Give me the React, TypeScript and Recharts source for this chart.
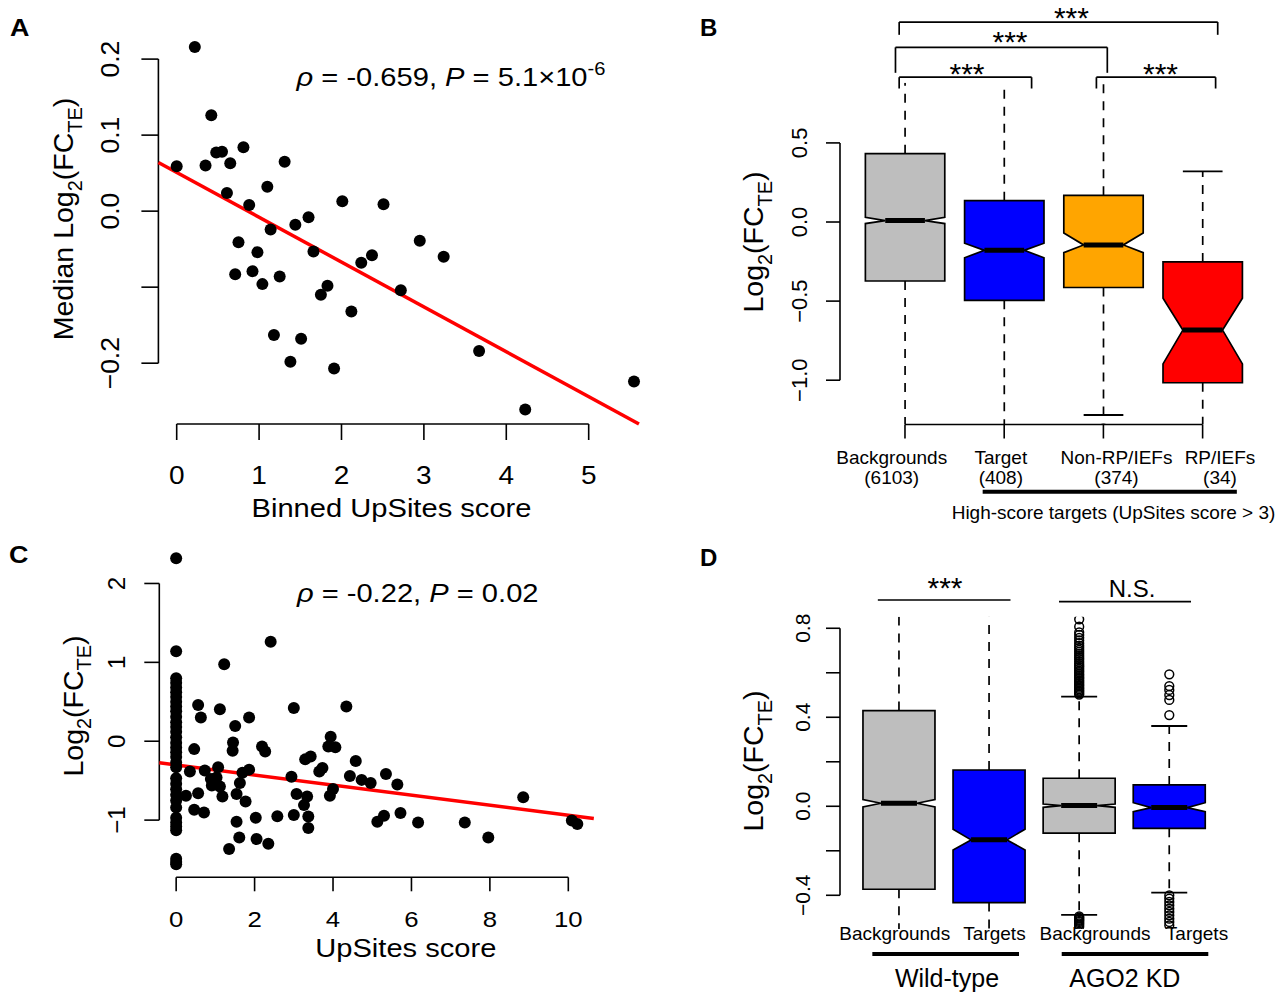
import React from "react";
import { ScatterChart, Scatter, XAxis, YAxis, ReferenceLine, ComposedChart, Bar } from "recharts";

const FONT = "'Liberation Sans', Arial, Helvetica, sans-serif";
const INK = "#000000";

// ---------------- Panel A data ----------------
const binnedScoreA = [0.22, 0.42, 0.0, 0.35, 0.48, 0.55, 0.65, 0.81, 1.31, 0.61, 0.88, 1.1, 1.14, 1.44, 1.6, 0.75, 0.98, 1.66, 0.71, 0.92, 1.04, 1.25, 1.83, 1.75, 2.01, 2.51, 2.24, 2.37, 2.12, 2.72, 2.95, 3.24, 1.18, 1.51, 1.38, 1.91, 3.67, 4.23, 5.55];
const medianLogFcA = [0.216, 0.126, 0.059, 0.06, 0.077, 0.078, 0.063, 0.084, 0.065, 0.024, 0.008, 0.032, -0.024, -0.018, -0.008, -0.041, -0.054, -0.053, -0.083, -0.079, -0.096, -0.086, -0.098, -0.11, 0.013, 0.009, -0.068, -0.058, -0.132, -0.104, -0.039, -0.06, -0.163, -0.168, -0.198, -0.207, -0.184, -0.261, -0.224];
const fitA = { intercept: 0.051, slope: -0.059 };
const xTicksA = [0, 1, 2, 3, 4, 5];
const xTickLabelsA = ["0", "1", "2", "3", "4", "5"];
const yTicksA = [-0.2, -0.1, 0, 0.1, 0.2];
const yTickLabelsA = ["\u22120.2", "", "0.0", "0.1", "0.2"];
const xDomainA: [number, number] = [-0.222, 5.772];
const yDomainA: [number, number] = [-0.28, 0.235];

// ---------------- Panel C data ----------------
const zeroScoreLogFcC = [2.32, 1.14, 0.8, 0.74, 0.68, 0.62, 0.56, 0.5, 0.44, 0.38, 0.31, 0.24, 0.18, 0.12, 0.05, -0.02, -0.08, -0.14, -0.2, -0.27, -0.33, -0.47, -0.54, -0.61, -0.68, -0.75, -0.84, -0.97, -1.03, -1.08, -1.13, -1.49, -1.53, -1.56];
const upsitesScoreC = [2.41, 1.225, 0.56, 0.63, 1.115, 1.86, 1.505, 3.0, 4.34, 1.45, 1.44, 0.46, 2.19, 2.27, 3.94, 3.88, 4.06, 3.29, 3.43, 4.58, 0.35, 0.73, 1.07, 0.885, 1.03, 0.91, 1.115, 1.69, 1.86, 1.625, 1.54, 1.18, 1.77, 0.56, 0.25, 2.94, 3.07, 3.34, 3.26, 3.65, 3.73, 4.0, 3.92, 4.43, 4.73, 4.96, 5.35, 5.64, 0.46, 0.71, 2.03, 2.58, 3.0, 3.37, 3.37, 1.54, 1.61, 2.05, 2.35, 1.35, 5.13, 5.3, 5.72, 6.17, 7.36, 7.96, 8.85, 10.09, 10.23];
const logFcC = [1.26, 0.976, 0.46, 0.3, 0.405, 0.3, 0.194, 0.42, 0.44, -0.017, -0.12, -0.1, -0.068, -0.13, 0.058, -0.068, -0.076, -0.23, -0.195, -0.25, -0.385, -0.37, -0.33, -0.48, -0.46, -0.56, -0.575, -0.4, -0.36, -0.53, -0.67, -0.7, -0.765, -0.66, -0.69, -0.45, -0.67, -0.7, -0.81, -0.385, -0.34, -0.605, -0.69, -0.44, -0.49, -0.53, -0.415, -0.55, -0.87, -0.905, -0.97, -0.95, -0.935, -0.955, -1.1, -1.02, -1.22, -1.24, -1.3, -1.365, -1.02, -0.945, -0.91, -1.03, -1.03, -1.22, -0.71, -1.005, -1.05];
const fitC = { intercept: -0.301, slope: -0.0636 };
const xTicksC = [0, 2, 4, 6, 8, 10];
const xTickLabelsC = ["0", "2", "4", "6", "8", "10"];
const yTicksC = [-1, 0, 1, 2];
const yTickLabelsC = ["\u22121", "0", "1", "2"];
const xDomainC: [number, number] = [-0.43, 10.65];
const yDomainC: [number, number] = [-1.725, 2.475];

// ---------------- Panel B data ----------------
const categoriesB = ["Backgrounds", "Target", "Non-RP/IEFs", "RP/IEFs"];
const countsB = ["(6103)", "(408)", "(374)", "(34)"];
const q1B = [-0.373, -0.495, -0.414, -1.016];
const medianB = [0.009, -0.179, -0.145, -0.683];
const q3B = [0.432, 0.135, 0.169, -0.252];
const notchLoB = [-0.01, -0.226, -0.194, -0.897];
const notchHiB = [0.03, -0.134, -0.07, -0.482];
const whiskerLoB = [-1.7, -1.6, -1.22, -1.5];
const whiskerHiB = [1.4, 1.1, 1.1, 0.32];
const colorsB = ["#BEBEBE", "#0000FF", "#FFA500", "#FF0000"];
const outliersB = [{ x: 3, y: -1.305 }];
const yTicksB = [-1, -0.5, 0, 0.5];
const yTickLabelsB = ["\u22121.0", "\u22120.5", "0.0", "0.5"];
const xDomainB: [number, number] = [0.345, 4.655];
const yDomainB: [number, number] = [-1.28, 0.88];
const bracketsB = [
  { x1: 0.9415, x2: 2.2762, y: 0.9153, yEnd: 0.8439 },
  { x1: 0.9042, x2: 3.0393, y: 1.1043, yEnd: 0.9431 },
  { x1: 0.9415, x2: 4.1522, y: 1.264, yEnd: 1.1833 },
  { x1: 2.9294, x2: 4.131, y: 0.9153, yEnd: 0.8439 },
];
const groupLineB = { x1: 1.783, x2: 4.345, y: -1.705 };

// ---------------- Panel D data ----------------
const categoriesD = ["Backgrounds", "Targets", "Backgrounds", "Targets"];
const groupsD = ["Wild-type", "AGO2 KD"];
const q1D = [-0.373, -0.433, -0.121, -0.099];
const medianD = [0.0135, -0.151, 0.003, -0.006];
const q3D = [0.43, 0.163, 0.126, 0.096];
const notchLoD = [-0.003, -0.196, -0.005, -0.024];
const notchHiD = [0.03, -0.103, 0.01, 0.016];
const whiskerLoD = [-0.75, -0.75, -0.488, -0.388];
const whiskerHiD = [1.0, 1.0, 0.493, 0.361];
const colorsD = ["#BEBEBE", "#0000FF", "#BEBEBE", "#0000FF"];
const outlierHiAgoBg = [0.502, 0.508, 0.515, 0.52, 0.527, 0.533, 0.54, 0.546, 0.553, 0.56, 0.566, 0.574, 0.58, 0.588, 0.595, 0.603, 0.61, 0.618, 0.626, 0.633, 0.641, 0.65, 0.66, 0.668, 0.676, 0.685, 0.694, 0.703, 0.712, 0.722, 0.733, 0.745, 0.757, 0.77, 0.782, 0.807, 0.84];
const outlierLoAgoBg = [-0.495, -0.5, -0.505, -0.51, -0.515, -0.52, -0.526, -0.532, -0.54];
const outlierHiAgoT = [0.41, 0.478, 0.5, 0.523, 0.54, 0.593];
const outlierLoAgoT = [-0.4, -0.415, -0.43, -0.445, -0.46, -0.475, -0.49, -0.505, -0.52, -0.535];
const yTicksD = [-0.4, -0.2, 0, 0.2, 0.4, 0.6, 0.8];
const yTickLabelsD = ["\u22120.4", "", "0.0", "", "0.4", "", "0.8"];
const xDomainD: [number, number] = [0.345, 4.655];
const yDomainD: [number, number] = [-0.552, 0.852];
const bracketsD = [
  { x1: 0.765, x2: 2.2375, y: 0.927 },
  { x1: 2.776, x2: 4.241, y: 0.9196 },
];
const groupLinesD = [
  { x1: 0.704, x2: 2.332, y: -0.664 },
  { x1: 2.806, x2: 4.433, y: -0.664 },
];

// ---------------- helpers ----------------
type Pt = { x: number; y: number };
const zip = (xs: number[], ys: number[]): Pt[] => xs.map((x, i) => ({ x, y: ys[i] }));
const pointsA = zip(binnedScoreA, medianLogFcA);
const pointsC = [...zeroScoreLogFcC.map((y) => ({ x: 0, y })), ...zip(upsitesScoreC, logFcC)];

const buildBoxes = (n: number, q1: number[], med: number[], q3: number[], nlo: number[], nhi: number[], lo: number[], hi: number[], colors: string[]) =>
  Array.from({ length: n }, (_, i) => ({ x: i + 1, q1: q1[i], med: med[i], q3: q3[i], nlo: nlo[i], nhi: nhi[i], lo: lo[i], hi: hi[i], fill: colors[i] }));
const boxesB = buildBoxes(4, q1B, medianB, q3B, notchLoB, notchHiB, whiskerLoB, whiskerHiB, colorsB);
const boxesD = buildBoxes(4, q1D, medianD, q3D, notchLoD, notchHiD, whiskerLoD, whiskerHiD, colorsD);
const outliersD: Pt[] = [
  ...outlierHiAgoBg.map((y) => ({ x: 3, y })),
  ...outlierLoAgoBg.map((y) => ({ x: 3, y })),
  ...outlierHiAgoT.map((y) => ({ x: 4, y })),
  ...outlierLoAgoT.map((y) => ({ x: 4, y })),
];

// clip a fitted line to the plotting box
function fitSegment(fit: { intercept: number; slope: number }, xd: [number, number], yd: [number, number]) {
  const f = (x: number) => fit.intercept + fit.slope * x;
  const xAtY = (y: number) => (y - fit.intercept) / fit.slope;
  let xa = xd[0];
  let xb = xd[1];
  let ya = f(xa);
  if (ya > yd[1]) { xa = xAtY(yd[1]); ya = yd[1]; }
  if (ya < yd[0]) { xa = xAtY(yd[0]); ya = yd[0]; }
  let yb = f(xb);
  if (yb < yd[0]) { xb = xAtY(yd[0]); yb = yd[0]; }
  if (yb > yd[1]) { xb = xAtY(yd[1]); yb = yd[1]; }
  return [{ x: xa, y: ya }, { x: xb, y: yb }];
}

function makeXTick(cfg: { ticks: number[]; labels?: string[]; len: number; base: number; fs: number; sx?: number }) {
  return (p: any) => {
    const { x, y, payload } = p;
    const idx = cfg.ticks.findIndex((t) => Math.abs(t - payload.value) < 1e-9);
    const label = cfg.labels && idx >= 0 ? cfg.labels[idx] : "";
    return (
      <g>
        {cfg.len > 0 && <line x1={x} y1={y} x2={x} y2={y + cfg.len} stroke={INK} strokeWidth={1.6} />}
        {label !== "" && (
          <text transform={`translate(${x},${y + cfg.base}) scale(${cfg.sx ?? 1},1)`} textAnchor="middle" fontSize={cfg.fs} fontFamily={FONT} fill={INK}>
            {label}
          </text>
        )}
      </g>
    );
  };
}

function makeYTick(cfg: { ticks: number[]; labels: string[]; len: number; base: number; fs: number }) {
  return (p: any) => {
    const { x, y, payload } = p;
    const idx = cfg.ticks.findIndex((t) => Math.abs(t - payload.value) < 1e-9);
    const label = idx >= 0 ? cfg.labels[idx] : "";
    return (
      <g>
        <line x1={x} y1={y} x2={x - cfg.len} y2={y} stroke={INK} strokeWidth={1.6} />
        {label !== "" && (
          <text transform={`translate(${x - cfg.base},${y}) rotate(-90)`} textAnchor="middle" fontSize={cfg.fs} fontFamily={FONT} fill={INK}>
            {label}
          </text>
        )}
      </g>
    );
  };
}

const Dot = (r: number) => (p: any) => <circle cx={p.cx} cy={p.cy} r={r} fill={INK} />;
const OpenDot = (r: number) => (p: any) => <circle cx={p.cx} cy={p.cy} r={r} fill="none" stroke={INK} strokeWidth={1.5} />;

// notched box drawn from the bar rectangle spanning [q1, q3]
const BoxShape = (props: any) => {
  const { x, y, width, height, payload, background } = props;
  const d = payload;
  if (!d || !isFinite(y) || !isFinite(height)) return null;
  const pix = (v: number) => y + ((d.q3 - v) / (d.q3 - d.q1)) * height;
  const top = background && isFinite(background.y) ? background.y : -1e6;
  const bot = background && isFinite(background.height) ? background.y + background.height : 1e6;
  const clamp = (v: number) => Math.max(top, Math.min(bot, v));
  const xc = x + width / 2;
  const x0 = x;
  const x1 = x + width;
  const q = width / 4;
  const yq3 = pix(d.q3);
  const yq1 = pix(d.q1);
  const ym = pix(d.med);
  const ynh = pix(d.nhi);
  const ynl = pix(d.nlo);
  const yHiRaw = pix(d.hi);
  const yLoRaw = pix(d.lo);
  const yHi = clamp(yHiRaw);
  const yLo = clamp(yLoRaw);
  const pts = [
    [x0, yq3], [x1, yq3], [x1, ynh], [xc + q, ym], [x1, ynl], [x1, yq1],
    [x0, yq1], [x0, ynl], [xc - q, ym], [x0, ynh],
  ].map((pp) => pp.join(",")).join(" ");
  return (
    <g>
      <line x1={xc} x2={xc} y1={yq3} y2={yHi} stroke={INK} strokeWidth={1.7} strokeDasharray="9 8" />
      <line x1={xc} x2={xc} y1={yq1} y2={yLo} stroke={INK} strokeWidth={1.7} strokeDasharray="9 8" />
      {yHiRaw >= top && <line x1={xc - q} x2={xc + q} y1={yHi} y2={yHi} stroke={INK} strokeWidth={1.9} />}
      {yLoRaw <= bot && <line x1={xc - q} x2={xc + q} y1={yLo} y2={yLo} stroke={INK} strokeWidth={1.9} />}
      <polygon points={pts} fill={d.fill} stroke={INK} strokeWidth={1.7} />
      <line x1={xc - q} x2={xc + q} y1={ym} y2={ym} stroke={INK} strokeWidth={5} />
    </g>
  );
};

const LogTitle = ({ x, y, fs, prefix = "" }: { x: number; y: number; fs: number; prefix?: string }) => {
  const s = fs * 0.3;
  return (
    <text transform={`translate(${x},${y}) rotate(-90)`} textAnchor="middle" fontSize={fs} fontFamily={FONT} fill={INK}>
      {prefix}Log
      <tspan fontSize={fs * 0.7} dy={s}>2</tspan>
      <tspan dy={-s}>(FC</tspan>
      <tspan fontSize={fs * 0.7} dy={s}>TE</tspan>
      <tspan dy={-s}>)</tspan>
    </text>
  );
};

const Txt = ({ x, y, fs, children, anchor = "middle", sx = 1, weight = "normal" }: any) => (
  <text transform={`translate(${x},${y}) scale(${sx},1)`} textAnchor={anchor} fontSize={fs} fontFamily={FONT} fontWeight={weight} fill={INK}>
    {children}
  </text>
);

const abs = (left: number, top: number): React.CSSProperties => ({ position: "absolute", left, top });

const STAR_FS = 30;
const starsB = [
  { x: 967, cy: 69.3 },
  { x: 1010, cy: 37.2 },
  { x: 1071.4, cy: 13 },
  { x: 1160.5, cy: 69.3 },
];

export default function App() {
  const segA = fitSegment(fitA, xDomainA, yDomainA);
  const segC = fitSegment(fitC, xDomainC, yDomainC);
  const SX = 1.12;
  const labelXB = [891.7, 1000.8, 1116.5, 1220];
  const labelXD = [894.7, 994.5, 1095, 1197];

  return (
    <div style={{ position: "absolute", left: 0, top: 0, width: 1287, height: 993, background: "#fff", fontFamily: FONT }}>
      {/* Panel A */}
      <div style={abs(0, 0)}>
        <ScatterChart width={660} height={540} margin={{ top: 32.5, right: 7.7, bottom: 36, left: 58.4 }}>
          <XAxis type="number" dataKey="x" domain={xDomainA} allowDataOverflow ticks={xTicksA} interval={0} height={80}
            axisLine={false} tickLine={false} tickSize={0} tickMargin={0}
            tick={makeXTick({ ticks: xTicksA, labels: xTickLabelsA, len: 16, base: 60, fs: 25, sx: SX })} />
          <YAxis type="number" dataKey="y" domain={yDomainA} allowDataOverflow ticks={yTicksA} interval={0} width={100}
            axisLine={false} tickLine={false} tickSize={0} tickMargin={0}
            tick={makeYTick({ ticks: yTicksA, labels: yTickLabelsA, len: 17, base: 39, fs: 26.5 })} />
          <Scatter data={pointsA} shape={Dot(6)} isAnimationActive={false} />
          <ReferenceLine segment={[{ x: xTicksA[0], y: yDomainA[0] }, { x: xTicksA[xTicksA.length - 1], y: yDomainA[0] }]} stroke={INK} strokeWidth={1.6} ifOverflow="visible" />
          <ReferenceLine segment={[{ x: xDomainA[0], y: yTicksA[0] }, { x: xDomainA[0], y: yTicksA[yTicksA.length - 1] }]} stroke={INK} strokeWidth={1.6} ifOverflow="visible" />
          <ReferenceLine segment={segA} stroke="#FF0000" strokeWidth={3.5} ifOverflow="visible" />
        </ScatterChart>
      </div>

      {/* Panel C */}
      <div style={abs(0, 530)}>
        <ScatterChart width={660} height={463} margin={{ top: 16, right: 66.2, bottom: 35.7, left: 59.3 }}>
          <XAxis type="number" dataKey="x" domain={xDomainC} allowDataOverflow ticks={xTicksC} interval={0} height={80}
            axisLine={false} tickLine={false} tickSize={0} tickMargin={0}
            tick={makeXTick({ ticks: xTicksC, labels: xTickLabelsC, len: 14, base: 49.4, fs: 23, sx: SX })} />
          <YAxis type="number" dataKey="y" domain={yDomainC} allowDataOverflow ticks={yTicksC} interval={0} width={100}
            axisLine={false} tickLine={false} tickSize={0} tickMargin={0}
            tick={makeYTick({ ticks: yTicksC, labels: yTickLabelsC, len: 15, base: 34.3, fs: 24 })} />
          <Scatter data={pointsC} shape={Dot(6)} isAnimationActive={false} />
          <ReferenceLine segment={[{ x: xTicksC[0], y: yDomainC[0] }, { x: xTicksC[xTicksC.length - 1], y: yDomainC[0] }]} stroke={INK} strokeWidth={1.6} ifOverflow="visible" />
          <ReferenceLine segment={[{ x: xDomainC[0], y: yTicksC[0] }, { x: xDomainC[0], y: yTicksC[yTicksC.length - 1] }]} stroke={INK} strokeWidth={1.6} ifOverflow="visible" />
          <ReferenceLine segment={segC} stroke="#FF0000" strokeWidth={3.5} ifOverflow="visible" />
        </ScatterChart>
      </div>

      {/* Panel B */}
      <div style={abs(700, 0)}>
        <ComposedChart width={587} height={540} data={boxesB} margin={{ top: 82.8, right: 19.4, bottom: 55.5, left: 40 }}>
          <XAxis type="number" dataKey="x" domain={xDomainB} allowDataOverflow ticks={[1, 2, 3, 4]} interval={0} height={60}
            axisLine={false} tickLine={false} tickSize={0} tickMargin={0}
            tick={makeXTick({ ticks: [1, 2, 3, 4], len: 14, base: 0, fs: 19 })} />
          <YAxis type="number" dataKey="y" domain={yDomainB} allowDataOverflow ticks={yTicksB} interval={0} width={100}
            axisLine={false} tickLine={false} tickSize={0} tickMargin={0}
            tick={makeYTick({ ticks: yTicksB, labels: yTickLabelsB, len: 14, base: 33, fs: 22 })} />
          <Bar dataKey={(d: any) => [d.q1, d.q3]} barSize={79.4} shape={BoxShape} isAnimationActive={false} />
          <Scatter data={outliersB} dataKey="y" shape={OpenDot(4.3)} isAnimationActive={false} />
          <ReferenceLine segment={[{ x: 1, y: yDomainB[0] }, { x: 4, y: yDomainB[0] }]} stroke={INK} strokeWidth={1.6} ifOverflow="visible" />
          <ReferenceLine segment={[{ x: xDomainB[0], y: yTicksB[0] }, { x: xDomainB[0], y: yTicksB[yTicksB.length - 1] }]} stroke={INK} strokeWidth={1.6} ifOverflow="visible" />
          {bracketsB.map((b, i) => (
            <ReferenceLine key={`bh${i}`} segment={[{ x: b.x1, y: b.y }, { x: b.x2, y: b.y }]} stroke={INK} strokeWidth={1.7} ifOverflow="visible" />
          ))}
          {bracketsB.map((b, i) => (
            <ReferenceLine key={`bl${i}`} segment={[{ x: b.x1, y: b.y }, { x: b.x1, y: b.yEnd }]} stroke={INK} strokeWidth={1.7} ifOverflow="visible" />
          ))}
          {bracketsB.map((b, i) => (
            <ReferenceLine key={`br${i}`} segment={[{ x: b.x2, y: b.y }, { x: b.x2, y: b.yEnd }]} stroke={INK} strokeWidth={1.7} ifOverflow="visible" />
          ))}
          <ReferenceLine segment={[{ x: groupLineB.x1, y: groupLineB.y }, { x: groupLineB.x2, y: groupLineB.y }]} stroke={INK} strokeWidth={4} ifOverflow="visible" />
        </ComposedChart>
      </div>

      {/* Panel D */}
      <div style={abs(700, 530)}>
        <ComposedChart width={587} height={463} data={boxesD} margin={{ top: 86.7, right: 58.7, bottom: 23.9, left: 40 }}>
          <XAxis type="number" dataKey="x" domain={xDomainD} allowDataOverflow ticks={[1, 2, 3, 4]} interval={0} height={40}
            axisLine={false} tickLine={false} tick={false} />
          <YAxis type="number" dataKey="y" domain={yDomainD} allowDataOverflow ticks={yTicksD} interval={0} width={100}
            axisLine={false} tickLine={false} tickSize={0} tickMargin={0}
            tick={makeYTick({ ticks: yTicksD, labels: yTickLabelsD, len: 14, base: 30.5, fs: 21 })} />
          <Bar dataKey={(d: any) => [d.q1, d.q3]} barSize={72} shape={BoxShape} isAnimationActive={false} />
          <Scatter data={outliersD} dataKey="y" shape={OpenDot(4.4)} isAnimationActive={false} />
          <ReferenceLine segment={[{ x: xDomainD[0], y: yTicksD[0] }, { x: xDomainD[0], y: yTicksD[yTicksD.length - 1] }]} stroke={INK} strokeWidth={1.6} ifOverflow="visible" />
          {bracketsD.map((b, i) => (
            <ReferenceLine key={`dh${i}`} segment={[{ x: b.x1, y: b.y }, { x: b.x2, y: b.y }]} stroke={INK} strokeWidth={1.7} ifOverflow="visible" />
          ))}
          {groupLinesD.map((b, i) => (
            <ReferenceLine key={`dg${i}`} segment={[{ x: b.x1, y: b.y }, { x: b.x2, y: b.y }]} stroke={INK} strokeWidth={4} ifOverflow="visible" />
          ))}
        </ComposedChart>
      </div>

      {/* Text overlay */}
      <svg width={1287} height={993} style={{ position: "absolute", left: 0, top: 0, pointerEvents: "none" }}>
        {/* panel letters */}
        <Txt x={10} y={35.5} fs={24} anchor="start" weight="bold" sx={SX}>A</Txt>
        <Txt x={700} y={35.5} fs={24} anchor="start" weight="bold">B</Txt>
        <Txt x={9} y={563} fs={24} anchor="start" weight="bold" sx={SX}>C</Txt>
        <Txt x={700} y={566} fs={24} anchor="start" weight="bold">D</Txt>

        {/* Panel A */}
        <LogTitle x={73} y={219} fs={28.5} prefix="Median " />
        <Txt x={451} y={86} fs={26} sx={SX}>
          <tspan fontStyle="italic">{"\u03C1"}</tspan>{" = -0.659, "}<tspan fontStyle="italic">P</tspan>{" = 5.1\u00D710"}
          <tspan fontSize={18} dy={-11}>-6</tspan>
        </Txt>
        <Txt x={391.5} y={517} fs={26} sx={SX}>Binned UpSites score</Txt>

        {/* Panel C */}
        <LogTitle x={82.5} y={706} fs={28.5} />
        <Txt x={417.7} y={601.7} fs={26} sx={SX}>
          <tspan fontStyle="italic">{"\u03C1"}</tspan>{" = -0.22, "}<tspan fontStyle="italic">P</tspan>{" = 0.02"}
        </Txt>
        <Txt x={405.8} y={956.7} fs={26} sx={SX}>UpSites score</Txt>

        {/* Panel B */}
        <LogTitle x={763} y={242} fs={28.5} />
        {starsB.map((s, i) => (
          <Txt key={`sb${i}`} x={s.x} y={s.cy + STAR_FS * 0.5} fs={STAR_FS}>***</Txt>
        ))}
        {categoriesB.map((c, i) => (
          <Txt key={`cb${i}`} x={labelXB[i]} y={464} fs={19}>{c}</Txt>
        ))}
        {countsB.map((c, i) => (
          <Txt key={`nb${i}`} x={labelXB[i]} y={484} fs={19}>{c}</Txt>
        ))}
        <Txt x={1113.5} y={519} fs={19}>High-score targets (UpSites score &gt; 3)</Txt>

        {/* Panel D */}
        <LogTitle x={763} y={761} fs={28.5} />
        <Txt x={945} y={583 + STAR_FS * 0.5} fs={STAR_FS}>***</Txt>
        <Txt x={1132} y={596.5} fs={24}>N.S.</Txt>
        {categoriesD.map((c, i) => (
          <Txt key={`cd${i}`} x={labelXD[i]} y={940} fs={19}>{c}</Txt>
        ))}
        {groupsD.map((g, i) => (
          <Txt key={`gd${i}`} x={[947, 1124.8][i]} y={986.5} fs={25}>{g}</Txt>
        ))}
      </svg>
    </div>
  );
}
